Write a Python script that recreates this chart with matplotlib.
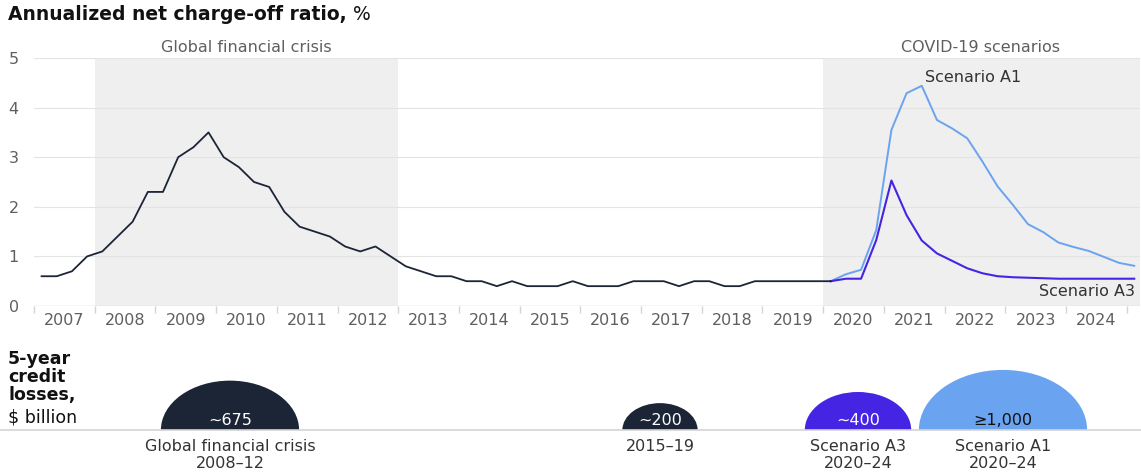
import numpy as np
import matplotlib
matplotlib.use('Agg')
import matplotlib.pyplot as plt
from matplotlib.patches import Ellipse

plt.rcParams['font.family'] = ['DejaVu Sans']

# quarterly net charge-off ratio, %, starting 2007 Q1
history = [0.6, 0.6, 0.7, 1.0,
           1.1, 1.4, 1.7, 2.3,
           2.3, 3.0, 3.2, 3.5,
           3.0, 2.8, 2.5, 2.4,
           1.9, 1.6, 1.5, 1.4,
           1.2, 1.1, 1.2, 1.0,
           0.8, 0.7, 0.6, 0.6,
           0.5, 0.5, 0.4, 0.5,
           0.4, 0.4, 0.4, 0.5,
           0.4, 0.4, 0.4, 0.5,
           0.5, 0.5, 0.4, 0.5,
           0.5, 0.4, 0.4, 0.5,
           0.5, 0.5, 0.5, 0.5,
           0.5]
# scenarios, starting 2020 Q1
scenario_a1 = [0.5, 0.64, 0.73, 1.53, 3.55, 4.29, 4.44, 3.75, 3.58, 3.38, 2.91,
               2.41, 2.04, 1.65, 1.49, 1.28, 1.19, 1.11, 0.99, 0.87, 0.81]
scenario_a3 = [0.5, 0.55, 0.55, 1.33, 2.53, 1.83, 1.32, 1.06, 0.91, 0.76, 0.66,
               0.60, 0.58, 0.57, 0.56, 0.55, 0.55, 0.55, 0.55, 0.55, 0.55]
years = list(range(2007, 2025))

# 5-year credit losses, $ billion
loss_values = [675, 200, 400, 1000]
loss_labels = ['~675', '~200', '~400', '≥1,000']
loss_names = ['Global financial crisis\n2008–12', '2015–19',
              'Scenario A3\n2020–24', 'Scenario A1\n2020–24']

NAVY = '#1b2536'
A1_BLUE = '#6aa3ef'
A3_VIOLET = '#4524e3'
GREY_TXT = '#5f5f5f'
SHADE = '#efefef'
FS = 11.5

W, H = 1141, 473
fig = plt.figure(figsize=(W / 100, H / 100), dpi=100)

# ---- top: charge-off ratio ----
ax = fig.add_axes([34 / W, 167 / H, 1106 / W, 248 / H])
x_hist = 2007 + (np.arange(len(history)) + 0.5) / 4
x_scen = 2020 + (np.arange(len(scenario_a1)) + 0.5) / 4

ax.axvspan(2008, 2013, ymin=0, ymax=1, color=SHADE, lw=0, zorder=0)
ax.axvspan(2020, 2026, ymin=0, ymax=1, color=SHADE, lw=0, zorder=0)
for v in range(1, 6):
    ax.axhline(v, color='#e3e3e3', lw=0.8, zorder=1)

ax.plot(x_scen, scenario_a1, color=A1_BLUE, lw=1.4, zorder=3)
ax.plot(x_scen, scenario_a3, color=A3_VIOLET, lw=1.5, zorder=3)
ax.plot(x_hist, history, color=NAVY, lw=1.3, zorder=4)

ax.set_xlim(2007, 2025.22)
ax.set_ylim(0, 5)
for s in ax.spines.values():
    s.set_visible(False)
ax.axhline(0, color='#d4d4d4', lw=1, zorder=2)

ax.set_yticks(range(6))
ax.tick_params(axis='y', length=0, pad=11, labelsize=FS, labelcolor=GREY_TXT)
ax.set_xticks(range(2007, 2026))
ax.set_xticklabels([])
ax.tick_params(axis='x', which='major', length=5, color='#d4d4d4', width=1)
ax.set_xticks([y + 0.5 for y in years], minor=True)
ax.set_xticklabels([str(y) for y in years], minor=True)
ax.tick_params(axis='x', which='minor', length=0, pad=5, labelsize=FS,
               labelcolor=GREY_TXT)

ax.text(2010.5, 5.22, 'Global financial crisis', ha='center', va='center',
        fontsize=FS, color=GREY_TXT, clip_on=False)
ax.text(2022.6, 5.22, 'COVID-19 scenarios', ha='center', va='center',
        fontsize=FS, color=GREY_TXT, clip_on=False)
ax.text(2021.68, 4.6, 'Scenario A1', ha='left', va='center',
        fontsize=FS, color='#333333')
ax.text(2025.14, 0.3, 'Scenario A3', ha='right', va='center',
        fontsize=FS, color='#333333')

title = fig.text(8 / W, 1 - 15 / H, 'Annualized net charge-off ratio,',
                 fontsize=13.5, fontweight='bold', color='#111111',
                 va='center', ha='left')
ax.annotate(' %', xy=(1, 0.5), xycoords=title, va='center', ha='left',
            fontsize=13.5, color='#111111', annotation_clip=False)

# ---- bottom: credit losses as half-ellipses ----
bx = fig.add_axes([0, 43 / H, 1, 90 / H])
bx.set_xlim(0, W)
bx.set_ylim(0, 90)
bx.axis('off')

centers = [230, 660, 858, 1003]
colors = [NAVY, NAVY, A3_VIOLET, A1_BLUE]
text_colors = ['white', 'white', 'white', '#111111']
k = 1.9
for cx, v, lab, name, c, tc in zip(centers, loss_values, loss_labels,
                                   loss_names, colors, text_colors):
    h = k * np.sqrt(v)
    bx.add_patch(Ellipse((cx, 0), 2 * h * 1.4, 2 * h, color=c, lw=0))
    bx.text(cx, 10, lab, ha='center', va='center', fontsize=FS, color=tc)
    bx.text(cx, -9, name, ha='center', va='top', fontsize=FS,
            color='#333333', linespacing=1.2, clip_on=False)
bx.axhline(0, color='#d4d4d4', lw=1.2, clip_on=False)

fig.text(8 / W, 1 - 350 / H, '5-year\ncredit\nlosses,', fontsize=12.5,
         fontweight='bold', color='#111111', va='top', ha='left',
         linespacing=1.0)
fig.text(8 / W, 1 - 417 / H, '$ billion', fontsize=12.5, color='#111111',
         va='center', ha='left')

fig.savefig('out.png', dpi=100)
